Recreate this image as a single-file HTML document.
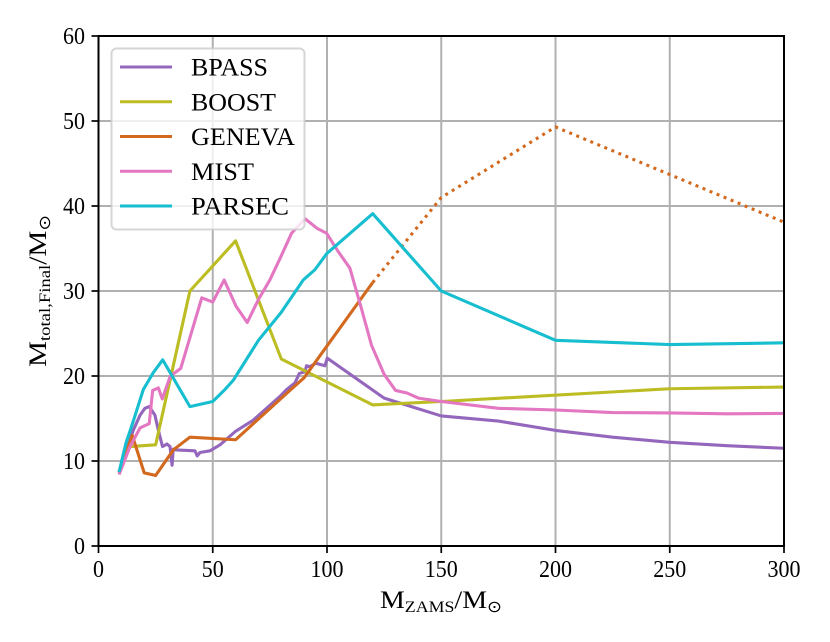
<!DOCTYPE html>
<html>
<head>
<meta charset="utf-8">
<style>
html,body{margin:0;padding:0;background:#fff;}
svg{display:block;}
text{font-family:"Liberation Serif","DejaVu Serif",serif;fill:#000;}
</style>
</head>
<body>
<svg id="chart" width="830" height="642" viewBox="0 0 830 642" xmlns="http://www.w3.org/2000/svg">
<defs><clipPath id="plot-clip"><rect x="98.5" y="36" width="685.5" height="510"/></clipPath></defs>
<g id="grid"></g>
<g id="series" clip-path="url(#plot-clip)"></g>
<rect x="98.5" y="36" width="685.5" height="510" fill="none" stroke="#000" stroke-width="2"/>
<g id="ticks"></g>
<text x="380" y="608" font-size="25" textLength="122" lengthAdjust="spacingAndGlyphs">M<tspan font-size="16" dy="4">ZAMS</tspan><tspan dy="-4">/M</tspan><tspan font-size="16" dy="4" font-family="DejaVu Sans">⊙</tspan></text>
<text transform="translate(46,367) rotate(-90)" x="0" y="0" font-size="25" textLength="152" lengthAdjust="spacingAndGlyphs">M<tspan font-size="16" dy="4">total,Final</tspan><tspan dy="-4">/M</tspan><tspan font-size="16" dy="4" font-family="DejaVu Sans">⊙</tspan></text>
<g id="legend">
<rect x="111.5" y="48.5" width="193" height="181" rx="5" ry="5" fill="#fff" fill-opacity="0.8" stroke="#ccc" stroke-opacity="0.8" stroke-width="2"/>
</g>
</svg>
<script>
const xTicks = [0, 50, 100, 150, 200, 250, 300];
const yTicks = [0, 10, 20, 30, 40, 50, 60];
const seriesNames = ['BPASS', 'BOOST', 'GENEVA', 'MIST', 'PARSEC'];
const seriesColors = ['#9467bd', '#bcbd22', '#d2691e', '#e377c2', '#17becf'];
const legendWidths = [77, 85, 104, 63, 98];

const bpassMass = [9,12,15.2,18.2,20.3,22.2,24.7,26.2,28,30,31.3,32.2,32.7,34,42.2,43.2,44.4,48.8,53.2,60,67.7,79.4,82.3,86,87.9,90.4,91,92.5,95.2,99.1,100.1,125,150,175,200,225,250,275,300];
const bpassFinal = [8.7,11,13.6,15.4,16.2,16.4,15.4,13.6,11.7,12,11.7,9.5,11.4,11.3,11.2,10.6,11,11.2,11.9,13.5,14.8,17.6,18.4,19.2,20.3,20.5,21.2,21.1,21.5,21.2,22.1,17.4,15.3,14.7,13.6,12.8,12.2,11.8,11.5];
const boostMass = [9,13.8,25,40,60,80,120,150,250,300];
const boostFinal = [8.8,11.7,11.9,30,35.9,22,16.6,17,18.5,18.7];
const genevaMass = [9,14.8,20,25,32.7,40,60,85,90,120];
const genevaFinal = [8.6,13,8.6,8.3,11.3,12.8,12.5,18.6,19.8,31];
const genevaDotMass = [120,150,200,300];
const genevaDotFinal = [31,41,49.3,38.1];
const mistMass = [9,13.8,18.2,22.2,23.7,26.2,27.9,31.3,33.5,36,45.2,50,55,60.2,65.1,70,75,79.4,84.5,90.4,95.5,99.8,105,110,115,119.5,125,130,135,140,150,175,200,225,250,275,300];
const mistFinal = [8.4,11.7,13.9,14.4,18.3,18.6,17.3,19.9,20.4,20.9,29.2,28.7,31.3,28.2,26.3,29,31.3,33.8,36.8,38.5,37.4,36.8,34.6,32.7,28,23.6,20.2,18.3,18,17.4,17,16.2,16,15.7,15.65,15.55,15.6];
const parsecMass = [9,12,15,19.6,24,28.1,40,50,55.3,59,70,80,89.6,94.7,99.9,120,150,200,250,300];
const parsecFinal = [8.7,12.1,14.5,18.4,20.4,21.9,16.4,17,18.4,19.5,24.2,27.5,31.3,32.5,34.4,39.1,30,24.2,23.7,23.9];

const NS = 'http://www.w3.org/2000/svg';
function xScale(v){ return 98.5 + v * 685.5 / 300; }
function yScale(v){ return 546 - v * 510 / 60; }
function line(parent, x1, y1, x2, y2, color, width){
  const l = document.createElementNS(NS, 'line');
  l.setAttribute('x1', x1); l.setAttribute('y1', y1);
  l.setAttribute('x2', x2); l.setAttribute('y2', y2);
  l.setAttribute('stroke', color); l.setAttribute('stroke-width', width);
  parent.appendChild(l);
  return l;
}
function label(parent, x, y, str, anchor, size, len){
  const t = document.createElementNS(NS, 'text');
  t.setAttribute('x', x); t.setAttribute('y', y);
  t.setAttribute('font-size', size);
  t.setAttribute('text-anchor', anchor);
  t.setAttribute('textLength', len);
  t.setAttribute('lengthAdjust', 'spacingAndGlyphs');
  t.textContent = str;
  parent.appendChild(t);
  return t;
}
const gridG = document.getElementById('grid');
const ticksG = document.getElementById('ticks');
xTicks.forEach(v => {
  const g = line(gridG, xScale(v), 36, xScale(v), 546, '#b0b0b0', 2);
  
  
  const k = line(ticksG, xScale(v), 546, xScale(v), 553, '#000', 1.7);
  
  
  const t = label(ticksG, xScale(v), 577, String(v), 'middle', 24, 11 * String(v).length);
  
  
});
yTicks.forEach(v => {
  const g = line(gridG, 98.5, yScale(v), 784, yScale(v), '#b0b0b0', 2);
  
  
  const k = line(ticksG, 91.5, yScale(v), 98.5, yScale(v), '#000', 1.7);
  
  
  const t = label(ticksG, 85, yScale(v) + 8, String(v), 'end', 24, 11 * String(v).length);
  
  
});
function pathFrom(xs, ys, color, dash){
  const p = document.createElementNS(NS, 'path');
  p.setAttribute('d', xs.map((x, i) => (i ? 'L' : 'M') + xScale(x).toFixed(2) + ' ' + yScale(ys[i]).toFixed(2)).join(''));
  p.setAttribute('fill', 'none');
  p.setAttribute('stroke', color);
  p.setAttribute('stroke-width', '3.1');
  p.setAttribute('stroke-linejoin', 'round');
  if (dash) p.setAttribute('stroke-dasharray', dash);
  document.getElementById('series').appendChild(p);
  return p;
}
const s1 = pathFrom(bpassMass, bpassFinal, seriesColors[0]);


const s2 = pathFrom(boostMass, boostFinal, seriesColors[1]);


const s3 = pathFrom(genevaMass, genevaFinal, seriesColors[2]);


const s3b = pathFrom(genevaDotMass, genevaDotFinal, seriesColors[2], '3 4.6');


const s4 = pathFrom(mistMass, mistFinal, seriesColors[3]);


const s5 = pathFrom(parsecMass, parsecFinal, seriesColors[4]);



const legendG = document.getElementById('legend');
seriesNames.forEach((name, i) => {
  const y = 67 + i * 34.75;
  const l = line(legendG, 120, y, 172, y, seriesColors[i], 3.1);
  
  
  const t = label(legendG, 191, y + 8.5, name, 'start', 25, legendWidths[i]);
  
  
});
</script>
</body>
</html>
